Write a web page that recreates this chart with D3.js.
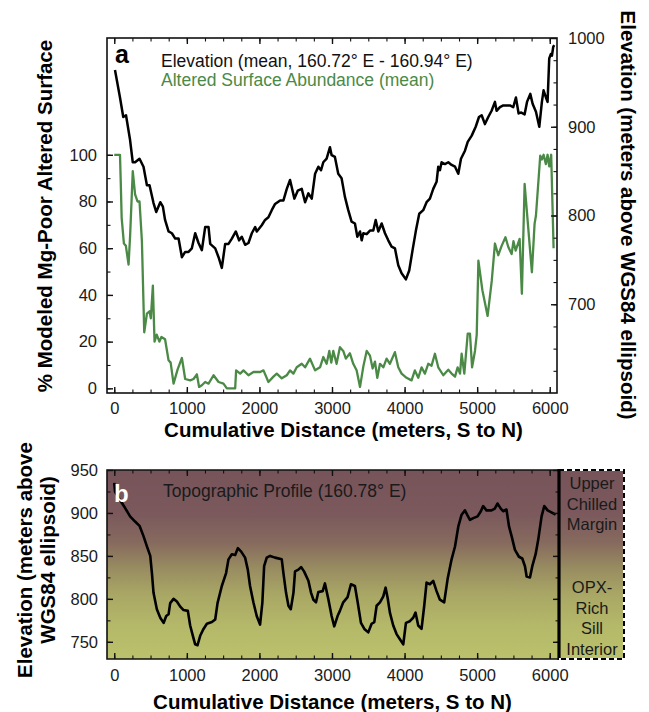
<!DOCTYPE html>
<html><head><meta charset="utf-8">
<script src="https://cdn.jsdelivr.net/npm/d3@7"></script>
<style>
body{margin:0;background:#fff}
svg{display:block}
text{font-family:"Liberation Sans",Arial,Helvetica,sans-serif}
</style>
</head><body>
<svg id="chart" width="649" height="712"></svg>
<script>
// ---------- DATA ----------
// Panel a: mean elevation (right axis, m)
const meanElevDist = [10,79,124,162,218,255,287,348,403,450,486,541,578,634,670,700,748,794,840,886,932,977,1023,1069,1115,1161,1207,1253,1299,1322,1391,1437,1482,1528,1574,1620,1675,1720,1757,1803,1849,1895,1941,1964,2032,2078,2124,2170,2216,2285,2331,2377,2422,2482,2528,2583,2629,2675,2721,2767,2812,2849,2880,2926,2972,2995,3040,3086,3132,3178,3224,3270,3316,3349,3386,3409,3432,3478,3523,3569,3602,3638,3684,3730,3775,3821,3867,3913,3959,4018,4064,4110,4156,4202,4257,4303,4349,4395,4441,4464,4487,4510,4556,4602,4648,4695,4740,4777,4832,4870,4925,4980,5025,5062,5107,5153,5199,5245,5268,5314,5360,5452,5497,5534,5571,5608,5654,5687,5732,5764,5810,5856,5892,5915,5947,5970,5993,6016,6030,6048,6062];
const meanElevValue = [964,933,911,913,885,860,860,864,855,834,834,814,804,815,810,795,782,780,774,774,753,759,759,763,780,769,761,787,787,768,763,753,741,768,768,774,782,772,776,767,769,780,787,782,789,795,798,806,813,817,817,830,840,819,828,830,815,825,819,847,855,851,860,864,877,868,866,847,842,821,806,793,791,776,782,772,780,779,783,783,795,782,791,780,772,765,763,744,735,728,738,761,783,802,806,815,819,830,838,855,851,860,858,860,857,855,847,864,873,883,890,900,911,913,903,911,918,928,918,922,924,924,922,933,915,916,914,928,937,926,917,900,928,941,933,928,977,982,980,990,992];

// Panel a: altered surface abundance (left axis, %)
const alteredDist = [0,79,88,102,133,160,197,218,255,287,320,348,381,413,450,486,504,532,555,585,622,650,700,748,777,817,872,932,977,1046,1092,1138,1169,1207,1253,1299,1368,1437,1505,1551,1666,1679,1735,1780,1849,1918,2010,2056,2124,2193,2239,2308,2377,2422,2468,2514,2583,2629,2697,2767,2835,2880,2926,2963,2990,3018,3063,3109,3155,3191,3247,3293,3339,3386,3432,3478,3523,3560,3592,3624,3661,3707,3752,3798,3867,3913,3959,4027,4096,4142,4188,4234,4280,4326,4372,4418,4464,4533,4602,4648,4695,4731,4764,4786,4823,4870,4901,4930,4970,4994,5017,5072,5144,5201,5245,5291,5337,5390,5429,5475,5500,5530,5585,5616,5654,5754,5791,5810,5869,5892,5915,5947,5970,5993,6020,6053];
const alteredPct = [100,100,90,73,62,61,53,65,93,83,80,80,63,24,32,33,30,44,20,23,20,22,21,12,11,2,8,13,4,3.4,4,6,0.6,1.3,2.7,2,5.6,2.7,2,0,0,7.7,6.3,7.7,5.6,7,7,7.7,2.7,5,6.3,4.3,5.6,7.7,6.3,9,10.5,9,12.7,7.7,9,13.4,10.5,16,11,16,10.5,17.6,16,12.7,15,10.5,7.7,0.6,9.4,16,14,8.5,11.4,4.5,10.5,9,12.7,10.5,15.5,9,6.3,4.5,3.4,7.7,4.5,9,6.3,10.5,9.7,14.8,9,5.6,8,6.3,5,9,6.3,14.8,6.3,23.4,23.4,9,16,23,54.7,42,31,46,62,57,61,64.7,60.5,57.5,63,59,64,40.5,87.5,49.7,70.4,74,99.6,98,100,96,100,95,100,60];

// Panel b: topographic profile at 160.78° E (m)
const profileDist = [0,10,79,148,218,287,348,403,450,496,519,541,587,634,680,716,748,771,817,863,909,955,1014,1046,1083,1115,1147,1184,1230,1276,1345,1391,1423,1482,1541,1574,1620,1666,1703,1749,1803,1840,1871,1917,1963,2009,2041,2065,2101,2147,2216,2308,2331,2367,2400,2432,2469,2491,2537,2574,2615,2675,2712,2744,2780,2812,2872,2903,2949,2995,3031,3077,3109,3155,3215,3261,3316,3354,3399,3446,3500,3546,3583,3615,3661,3707,3739,3767,3798,3844,3890,3936,3982,4019,4073,4119,4151,4188,4234,4271,4303,4349,4395,4441,4487,4546,4593,4648,4695,4740,4786,4832,4869,4901,4947,5006,5051,5083,5129,5198,5243,5280,5326,5358,5404,5440,5475,5521,5576,5622,5659,5682,5728,5760,5806,5842,5888,5925,5971,6017,6081];
const profileElev = [935,925,915,906,896,890,885,873,861,850,830,807,788,778,772,780,782,795,800,797,791,787,786,769,757,747,746,757,765,771,773,776,795,815,830,846,852,851,859,855,848,834,815,796,780,770,796,838,848,850,848,846,830,807,792,788,807,832,834,837,832,821,807,799,796,808,809,818,800,780,768,780,786,796,802,817,815,796,772,765,761,771,773,792,796,803,813,801,784,769,759,753,747,772,774,778,784,769,765,792,819,817,821,809,799,796,823,846,861,884,898,903,897,892,894,896,902,908,903,903,905,911,905,902,904,884,873,857,849,847,838,826,825,838,852,869,896,908,903,901,898];

// Tick values and labels
const distTicks = [0,1000,2000,3000,4000,5000,6000];
const pctTicks = [0,20,40,60,80,100];
const elevTicksA = [700,800,900,1000];
const elevTicksB = [750,800,850,900,950];
const zoneLabelsUpper = ["Upper","Chilled","Margin"];
const zoneLabelsLower = ["OPX-","Rich","Sill","Interior"];

// ---------- DRAW ----------
const svg = d3.select("#chart");
const INK = "#111";
const GREEN = "#4b8a46";
const TICKFONT = "16.5px";
const fmt = d3.format("d");

function styleAxis(g, minor){
  g.select(".domain").remove();
  g.selectAll(".tick line").attr("stroke", INK).attr("stroke-width", minor ? 1.1 : 1.4);
  g.selectAll(".tick text").attr("fill", "#1a1a1a").style("font-size", TICKFONT)
    .style("font-family", '"Liberation Sans",Arial,sans-serif');
}
function drawAxis(transform, gen, minor){
  const g = svg.append("g").attr("transform", transform).call(gen);
  styleAxis(g, minor);
  return g;
}

// ===== Panel a =====
const A = {l:107, r:557, t:38, b:393};
const xA = d3.scaleLinear([-100, 6100], [A.l, A.r]);
const yL = d3.scaleLinear([-2, 150], [A.b, A.t]);
const yR = d3.scaleLinear([600, 1000], [A.b, A.t]);

// lines
svg.append("path")
  .datum(alteredDist.map((d,i)=>[d, alteredPct[i]]))
  .attr("fill","none").attr("stroke",GREEN).attr("stroke-width",2.3)
  .attr("stroke-linejoin","round")
  .attr("d", d3.line().x(d=>xA(d[0])).y(d=>yL(d[1])));
svg.append("path")
  .datum(meanElevDist.map((d,i)=>[d, meanElevValue[i]]))
  .attr("fill","none").attr("stroke","#000").attr("stroke-width",2.5)
  .attr("stroke-linejoin","round")
  .attr("d", d3.line().x(d=>xA(d[0])).y(d=>yR(d[1])));

// axes panel a
const minorDist = d3.range(0, 6001, 250);
drawAxis(`translate(0,${A.b})`, d3.axisBottom(xA).tickValues(minorDist).tickSize(-3.5).tickFormat(""), true);
drawAxis(`translate(0,${A.b})`, d3.axisBottom(xA).tickValues(distTicks).tickSize(-6).tickPadding(9).tickFormat(fmt));
drawAxis(`translate(0,${A.t})`, d3.axisTop(xA).tickValues(minorDist).tickSize(-3.5).tickFormat(""), true);
drawAxis(`translate(0,${A.t})`, d3.axisTop(xA).tickValues(distTicks).tickSize(-6).tickFormat(""));
drawAxis(`translate(${A.l},0)`, d3.axisLeft(yL).tickValues(d3.range(0,101,10)).tickSize(-3.5).tickFormat(""), true);
drawAxis(`translate(${A.l},0)`, d3.axisLeft(yL).tickValues(pctTicks).tickSize(-6).tickPadding(10).tickFormat(fmt));
drawAxis(`translate(${A.r},0)`, d3.axisRight(yR).tickValues(d3.range(625,1001,25)).tickSize(-3.5).tickFormat(""), true);
drawAxis(`translate(${A.r},0)`, d3.axisRight(yR).tickValues(elevTicksA).tickSize(-6).tickPadding(11).tickFormat(fmt));

svg.append("rect").attr("x",A.l).attr("y",A.t).attr("width",A.r-A.l).attr("height",A.b-A.t)
  .attr("fill","none").attr("stroke",INK).attr("stroke-width",1.6);

svg.append("text").attr("x",115).attr("y",63).text("a")
  .style("font-size","25px").style("font-weight","bold").attr("fill","#000");
svg.append("text").attr("x",161).attr("y",67).text("Elevation (mean, 160.72° E - 160.94° E)")
  .style("font-size","17.5px").attr("fill","#111");
svg.append("text").attr("x",161).attr("y",86).text("Altered Surface Abundance (mean)")
  .style("font-size","17.5px").attr("fill",GREEN);

// titles panel a
svg.append("text").attr("x",343.5).attr("y",437).attr("text-anchor","middle")
  .text("Cumulative Distance (meters, S to N)").style("font-size","20.5px").style("font-weight","bold");
svg.append("text").attr("transform","translate(52,216) rotate(-90)").attr("text-anchor","middle")
  .text("% Modeled Mg-Poor Altered Surface").style("font-size","20.5px").style("font-weight","bold");
svg.append("text").attr("transform","translate(621,215) rotate(90)").attr("text-anchor","middle")
  .text("Elevation (meters above WGS84 ellipsoid)").style("font-size","20.5px").style("font-weight","bold");

// ===== Panel b =====
const B = {l:107, r:559, t:470, b:659, boxR:624};
const xB = d3.scaleLinear([-100, 6128], [B.l, B.r]);
const yB = d3.scaleLinear([730, 950], [B.b, B.t]);

const defs = svg.append("defs");
const grad = defs.append("linearGradient").attr("id","bg")
  .attr("gradientUnits","userSpaceOnUse").attr("x1",0).attr("x2",0).attr("y1",B.t).attr("y2",B.b);
[[0,"#765459"],[0.22,"#7a585c"],[0.38,"#86695e"],[0.52,"#988c61"],[0.66,"#a9a765"],[0.82,"#b4b869"],[1,"#bbc16c"]]
  .forEach(s=>grad.append("stop").attr("offset",s[0]).attr("stop-color",s[1]));

svg.append("rect").attr("x",B.l).attr("y",B.t).attr("width",B.boxR-B.l).attr("height",B.b-B.t)
  .attr("fill","url(#bg)");

svg.append("path")
  .datum(profileDist.map((d,i)=>[d, profileElev[i]]))
  .attr("fill","none").attr("stroke","#000").attr("stroke-width",2.6)
  .attr("stroke-linejoin","round")
  .attr("d", d3.line().x(d=>xB(d[0])).y(d=>yB(d[1])));

drawAxis(`translate(0,${B.b})`, d3.axisBottom(xB).tickValues(minorDist).tickSize(-3.5).tickFormat(""), true);
drawAxis(`translate(0,${B.b})`, d3.axisBottom(xB).tickValues(distTicks).tickSize(-6).tickPadding(10.5).tickFormat(fmt));
drawAxis(`translate(0,${B.t})`, d3.axisTop(xB).tickValues(minorDist).tickSize(-3.5).tickFormat(""), true);
drawAxis(`translate(0,${B.t})`, d3.axisTop(xB).tickValues(distTicks).tickSize(-6).tickFormat(""));
drawAxis(`translate(${B.l},0)`, d3.axisLeft(yB).tickValues(d3.range(750,951,25)).tickSize(-3.5).tickFormat(""), true);
drawAxis(`translate(${B.l},0)`, d3.axisLeft(yB).tickValues(elevTicksB).tickSize(-6).tickPadding(9).tickFormat(fmt));
drawAxis(`translate(${B.r},0)`, d3.axisRight(yB).tickValues(d3.range(750,951,25)).tickSize(-3.5).tickFormat(""), true);
drawAxis(`translate(${B.r},0)`, d3.axisRight(yB).tickValues(elevTicksB).tickSize(-6).tickFormat(""));

// frame
svg.append("path").attr("d",`M${B.r},${B.t}H${B.l}V${B.b}H${B.r}`)
  .attr("fill","none").attr("stroke",INK).attr("stroke-width",1.6);
svg.append("line").attr("x1",B.r).attr("x2",B.r).attr("y1",B.t-1).attr("y2",B.b+1)
  .attr("stroke","#000").attr("stroke-width",3.2);
// dashed zone box
svg.append("path").attr("d",`M${B.r},${B.t}H${B.boxR}V${B.b}H${B.r}`)
  .attr("fill","none").attr("stroke","#fff").attr("stroke-width",2);
svg.append("path").attr("d",`M${B.r},${B.t}H${B.boxR}V${B.b}H${B.r}`)
  .attr("fill","none").attr("stroke","#000").attr("stroke-width",2).attr("stroke-dasharray","5,3");

const boxCx = (B.r + B.boxR)/2 + 0.5;
zoneLabelsUpper.forEach((t,i)=>svg.append("text").attr("x",boxCx).attr("y",489+i*20.5)
  .attr("text-anchor","middle").text(t).style("font-size","16.5px").attr("fill","#1a1a1a"));
zoneLabelsLower.forEach((t,i)=>svg.append("text").attr("x",boxCx).attr("y",593+i*20.5)
  .attr("text-anchor","middle").text(t).style("font-size","16.5px").attr("fill","#1a1a1a"));

svg.append("text").attr("x",114).attr("y",502).text("b")
  .style("font-size","24px").style("font-weight","bold").attr("fill","#fff");
svg.append("text").attr("x",163).attr("y",497).text("Topographic Profile (160.78° E)")
  .style("font-size","17.5px").attr("fill","#1a1a1a");

svg.append("text").attr("x",332.5).attr("y",709).attr("text-anchor","middle")
  .text("Cumulative Distance (meters, S to N)").style("font-size","20.5px").style("font-weight","bold");
const yt = svg.append("text").attr("transform","translate(0,560) rotate(-90)").attr("text-anchor","middle")
  .style("font-size","20.5px").style("font-weight","bold");
yt.append("tspan").attr("x",0).attr("y",32).text("Elevation (meters above");
yt.append("tspan").attr("x",0).attr("y",55).text("WGS84 ellipsoid)");
</script>
</body></html>
